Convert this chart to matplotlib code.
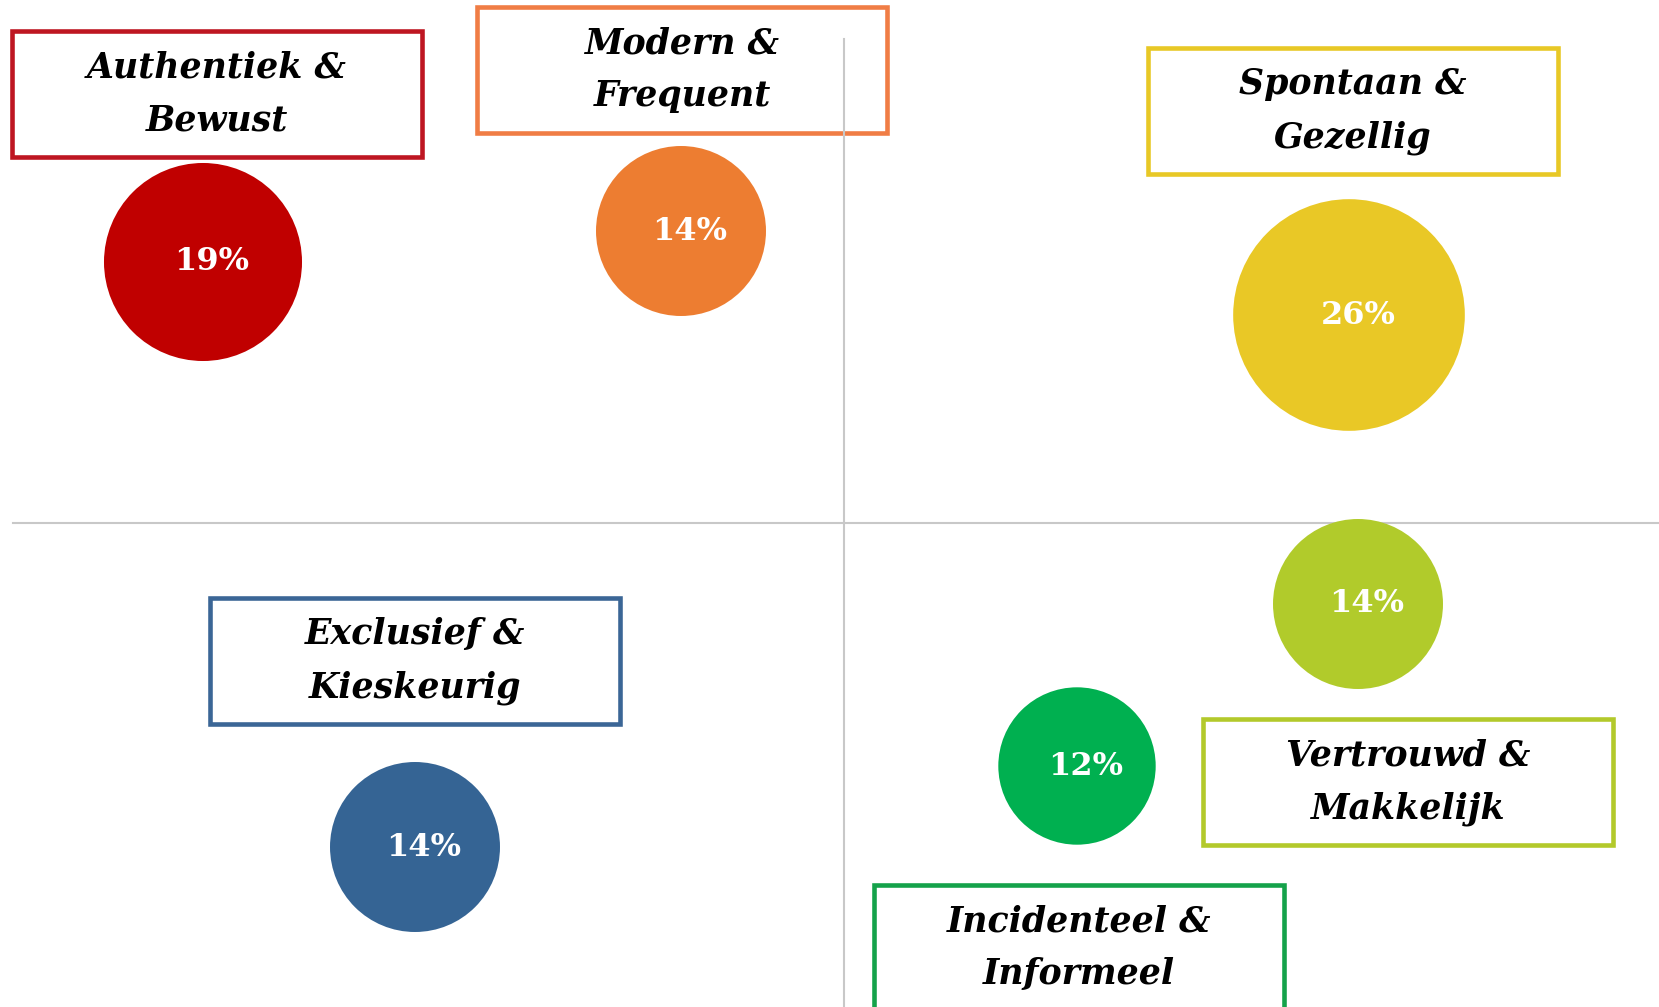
import matplotlib
matplotlib.use("Agg")
import matplotlib.pyplot as plt
from matplotlib.patches import Rectangle

# segments: label, share (%), bubble position, label box position (quadrant units, axes cross at 0,0)
labels = ["Authentiek &\nBewust", "Modern &\nFrequent", "Spontaan &\nGezellig",
          "Exclusief &\nKieskeurig", "Vertrouwd &\nMakkelijk", "Incidenteel &\nInformeel"]
share = [19, 14, 26, 14, 14, 12]
bx = [-6.41, -1.63, 5.05, -4.29, 5.14, 2.33]
by = [2.61, 2.92, 2.08, -3.24, -0.81, -2.43]
lx = [-6.27, -1.62, 5.09, -4.29, 5.64, 2.35]
ly = [4.29, 4.53, 4.12, -1.38, -2.59, -4.25]
fill = ["#C00000", "#ED7D31", "#E9C826", "#356494", "#B1CB2B", "#00B050"]
edge = ["#BE1622", "#F07D45", "#E8C826", "#3B6696", "#B3C92B", "#14A24A"]

BOX_W, BOX_H = 4.1, 1.26
GRID = "#C8C8C8"

fig = plt.figure(figsize=(16.59, 10.07), dpi=100)
ax = fig.add_axes([0, 0, 1, 1])
ax.set_xlim(-8.44, 8.15); ax.set_ylim(-4.84, 5.23)
ax.axis("off")

# quadrant lines (drawn over the label boxes, under the bubbles)
ax.plot([0, 0], [-4.84, 4.84], color=GRID, lw=1.5, zorder=6)
ax.plot([-8.31, 8.15], [0, 0], color=GRID, lw=1.5, zorder=6)

# bubbles, area proportional to share
ax.scatter(bx, by, s=[v * 1070 for v in share], c=fill, edgecolors="none", zorder=7)
for x, y, v in zip(bx, by, share):
    ax.text(x + 0.09, y, f"{v}%", color="white", fontsize=23, fontweight="bold",
            family="DejaVu Serif", ha="center", va="center", zorder=8)

# label boxes
for x, y, t, ec in zip(lx, ly, labels, edge):
    ax.add_patch(Rectangle((x - BOX_W / 2, y - BOX_H / 2), BOX_W, BOX_H, fill=True, fc="white",
                           ec=ec, lw=3.3, zorder=4))
    ax.text(x, y, t, fontsize=25, fontweight="bold", fontstyle="italic", family="DejaVu Serif",
            ha="center", va="center", linespacing=1.7, color="black", zorder=5)

fig.savefig("out.png", dpi=100)
